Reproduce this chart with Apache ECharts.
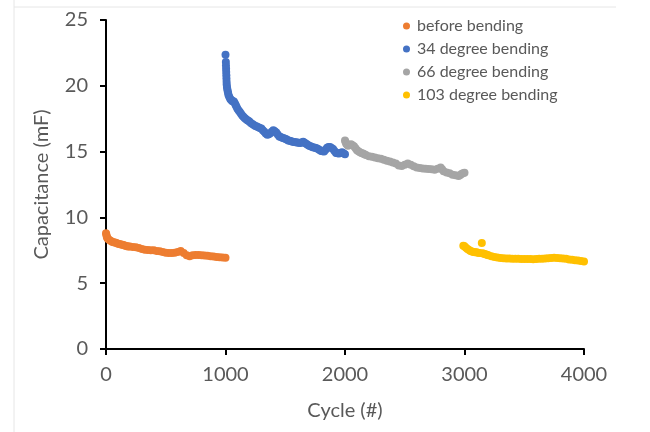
<!DOCTYPE html>
<html><head><meta charset="utf-8">
<script src="https://cdn.jsdelivr.net/npm/echarts@6/dist/echarts.min.js"></script>
<style>html,body{margin:0;padding:0;background:#fff}#c{width:650px;height:432px}</style>
</head><body><div id="c"></div>
<script>
const seriesNames = ['before bending','34 degree bending','66 degree bending','103 degree bending'];
const xTicks = [0,1000,2000,3000,4000];
const yTicks = [0,5,10,15,20,25];

const beforeX = [0,3,6,10,15,25,38,50,63,75,88,100,113,125,138,150,163,175,188,200,225,250,275,300,325,350,375,400,425,450,475,500,525,550,575,600,625,650,675,700,725,750,775,800,825,850,875,900,925,950,975,1000];
const beforeY = [8.8,8.7,8.55,8.45,8.38,8.3,8.22,8.15,8.12,8.1,8.05,8.0,7.97,7.95,7.92,7.88,7.84,7.8,7.79,7.78,7.75,7.74,7.68,7.6,7.55,7.52,7.5,7.5,7.45,7.42,7.38,7.32,7.3,7.3,7.32,7.38,7.45,7.3,7.12,7.05,7.12,7.15,7.15,7.12,7.1,7.08,7.05,7.02,7.0,6.98,6.95,6.93];

const deg34X = [1000,1003,1004,1005,1006,1007,1008,1009,1010,1012,1015,1018,1022,1025,1032,1040,1048,1055,1062,1070,1078,1085,1092,1100,1110,1120,1130,1140,1150,1160,1170,1180,1190,1200,1212,1225,1237,1250,1262,1275,1287,1300,1312,1325,1337,1350,1362,1375,1387,1400,1412,1425,1437,1450,1462,1475,1487,1500,1512,1525,1537,1550,1562,1575,1587,1600,1612,1625,1637,1650,1662,1675,1687,1700,1712,1725,1737,1750,1762,1775,1787,1800,1812,1825,1837,1850,1862,1875,1887,1900,1912,1925,1937,1950,1962,1975,1987,2000];
const deg34Y = [22.35,21.8,21.55,21.3,21.05,20.8,20.55,20.3,20.1,19.9,19.75,19.6,19.45,19.3,19.15,19.0,18.92,18.85,18.82,18.8,18.68,18.55,18.4,18.25,18.12,18.0,17.88,17.75,17.65,17.55,17.48,17.4,17.34,17.28,17.18,17.1,17.02,16.95,16.9,16.85,16.8,16.75,16.62,16.5,16.38,16.28,16.32,16.4,16.5,16.62,16.55,16.45,16.3,16.15,16.1,16.05,16.02,15.98,15.92,15.85,15.82,15.78,15.75,15.72,15.71,15.7,15.67,15.65,15.7,15.75,15.68,15.6,15.52,15.45,15.4,15.35,15.32,15.3,15.25,15.2,15.12,15.05,15.02,15.0,15.15,15.3,15.35,15.35,15.28,15.2,15.05,14.9,14.88,14.85,14.9,14.95,14.88,14.8];

const deg66X = [2000,2005,2010,2018,2025,2038,2050,2062,2075,2088,2100,2112,2125,2137,2150,2162,2175,2200,2225,2250,2275,2300,2325,2350,2375,2400,2425,2450,2475,2500,2525,2550,2575,2600,2625,2650,2675,2700,2725,2750,2775,2800,2812,2825,2850,2875,2900,2925,2950,2962,2975,2987,3000];
const deg66Y = [15.85,15.72,15.6,15.52,15.45,15.5,15.55,15.48,15.4,15.25,15.1,15.02,14.95,14.9,14.85,14.8,14.75,14.65,14.6,14.55,14.5,14.45,14.38,14.3,14.25,14.18,14.1,13.95,13.9,14.0,14.1,14.0,13.88,13.8,13.75,13.72,13.7,13.68,13.65,13.62,13.7,13.8,13.65,13.5,13.42,13.35,13.25,13.2,13.15,13.2,13.3,13.35,13.4];

const deg103X = [2990,3000,3012,3025,3038,3050,3062,3075,3088,3100,3112,3125,3145,3150,3162,3175,3188,3200,3225,3250,3275,3300,3325,3350,3375,3400,3425,3450,3475,3500,3525,3550,3575,3600,3625,3650,3675,3700,3725,3750,3775,3800,3825,3850,3875,3900,3925,3950,3975,4000];
const deg103Y = [7.85,7.8,7.7,7.6,7.52,7.45,7.4,7.38,7.36,7.35,7.32,7.3,8.05,7.28,7.24,7.2,7.16,7.12,7.05,7.0,6.95,6.92,6.9,6.88,6.87,6.86,6.85,6.85,6.84,6.84,6.83,6.83,6.82,6.84,6.85,6.86,6.88,6.9,6.92,6.93,6.92,6.9,6.88,6.85,6.8,6.78,6.75,6.72,6.68,6.65];

const colors = ['#ED7D31','#4472C4','#A5A5A5','#FFC000'];
const xs = [beforeX, deg34X, deg66X, deg103X];
const ys = [beforeY, deg34Y, deg66Y, deg103Y];

const FONT = 'Lato';
const chart = echarts.init(document.getElementById('c'), null, {renderer:'canvas'});
chart.setOption({
  animation:false,
  backgroundColor:'#fff',
  grid:{left:106,right:66,top:20,bottom:83,containLabel:false},
  legend:{
    orient:'vertical', left:398, top:13, itemGap:7, itemWidth:7, itemHeight:7,
    icon:'circle',
    textStyle:{color:'#595959',fontSize:16,fontFamily:FONT,padding:[0,0,0,2]},
    data:seriesNames
  },
  xAxis:{
    type:'value', min:xTicks[0], max:xTicks[xTicks.length-1], interval:1000,
    name:'Cycle (#)', nameLocation:'middle', nameGap:52,
    nameTextStyle:{color:'#595959',fontSize:20,fontFamily:FONT},
    axisLine:{show:true,onZero:false,lineStyle:{color:'#000',width:2}},
    axisTick:{show:true,length:6,lineStyle:{color:'#000',width:2}},
    axisLabel:{color:'#595959',fontSize:20,fontFamily:FONT,margin:16,formatter:v=>String(v)},
    splitLine:{show:false}
  },
  yAxis:{
    type:'value', min:yTicks[0], max:yTicks[yTicks.length-1], interval:5,
    name:'Capacitance (mF)', nameLocation:'middle', nameGap:54,
    nameTextStyle:{color:'#595959',fontSize:20,fontFamily:FONT},
    axisLine:{show:true,onZero:false,lineStyle:{color:'#000',width:2}},
    axisTick:{show:true,length:6,lineStyle:{color:'#000',width:2}},
    axisLabel:{color:'#595959',fontSize:20,fontFamily:FONT,margin:18},
    splitLine:{show:false}
  },
  graphic:[
    {type:'line',shape:{x1:14,y1:0,x2:14,y2:432},style:{stroke:'#e6e6e6',lineWidth:1},silent:true},
    {type:'line',shape:{x1:14,y1:7,x2:616,y2:7},style:{stroke:'#e6e6e6',lineWidth:1},silent:true}
  ],
  series: seriesNames.map((n,i)=>({
    name:n, type:'scatter', symbol:'circle', symbolSize:8,
    itemStyle:{color:colors[i],opacity:1},
    data: xs[i].map((x,j)=>[x, ys[i][j]])
  }))
});
</script></body></html>
